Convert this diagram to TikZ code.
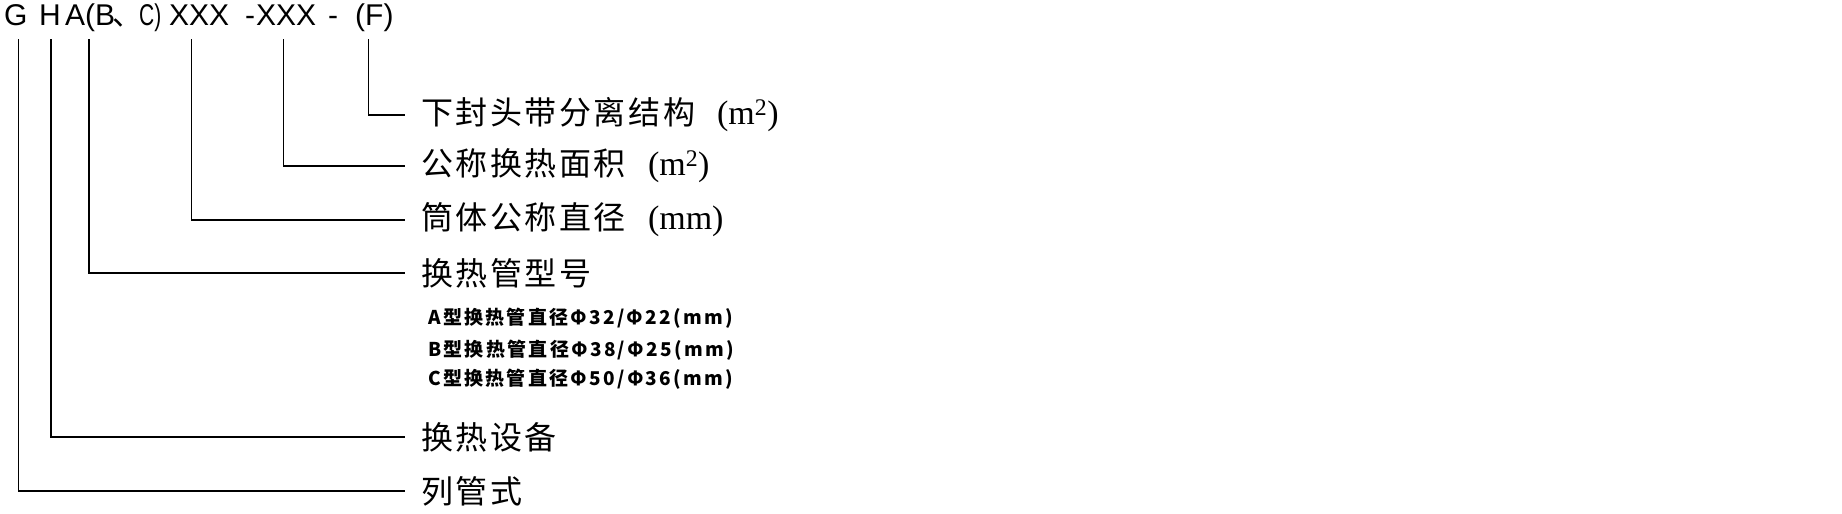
\documentclass[tikz,border=0pt]{standalone}
\usepackage{fontspec}
\setmainfont{Liberation Sans}
\newfontfamily\narrowfont{Liberation Sans}[FakeStretch=0.7]
\newfontfamily\cjkfont{Noto Sans CJK SC}[LetterSpace=8]
\newfontfamily\subfont{Noto Sans CJK SC}[LetterSpace=12]
\newfontfamily\unitfont{Liberation Serif}
\usetikzlibrary{positioning}
\newcommand{\munit}[1]{\hspace{22pt}{\unitfont\fontsize{34}{34}\selectfont #1}}

\begin{document}
\begin{tikzpicture}[
    x=1pt, y=-1pt,
    code/.style={inner sep=0pt, anchor=base west, font=\fontsize{30}{30}\selectfont},
    lab/.style={inner sep=0pt, anchor=west, font=\cjkfont\fontsize{32}{32}\selectfont},
    sub/.style={inner sep=0pt, anchor=west, font=\subfont\bfseries\fontsize{19}{19}\selectfont},
    lead/.style={line width=1.2pt, shorten >=16pt}
]
\useasboundingbox (0,0) rectangle (1842,514);

% model code
\node[code] (codeG) at (4,25) {G};
\node[code] (codeH) at (39,25) {H};
\node[code] (codeA) at (65,25) {A};
\node[code] (codeBC) at (85,25) {(B};
\node[code, font=\cjkfont\fontsize{30}{30}\selectfont] (comma) at (112,25) {、};
\node[code, font=\narrowfont\fontsize{30}{30}\selectfont] (codeC) at (139,25) {C)};
\node[code] (codeX1) at (169,25) {XXX};
\node[code] (dashA) at (245,25) {-};
\node[code] (codeX2) at (256,25) {XXX};
\node[code] (dashB) at (328,25) {-};
\node[code] (codeF) at (355,25) {(F)};

% meanings
\node[lab] (labF) at (421,115) {下封头带分离结构\munit{(m\textsuperscript{2})}};
\node[lab] (labArea) at (421,166) {公称换热面积\munit{(m\textsuperscript{2})}};
\node[lab] (labDia) at (421,220) {筒体公称直径\munit{(mm)}};
\node[lab] (labTube) at (421,273) {换热管型号};
\node[sub] (subA) at (428,318) {A型换热管直径Φ32/Φ22(mm)};
\node[sub] (subB) at (428,350) {B型换热管直径Φ38/Φ25(mm)};
\node[sub] (subC) at (428,379) {C型换热管直径Φ50/Φ36(mm)};
\node[lab] (labEquip) at (421,437) {换热设备};
\node[lab] (labType) at (421,491) {列管式};

\draw[lead] ([xshift=-6pt,yshift=-14pt]codeF.base) |- (labF.west);
\draw[lead] ([xshift=-3pt,yshift=-14pt]codeX2.base) |- (labArea.west);
\draw[lead] ([xshift=-8pt,yshift=-14pt]codeX1.base) |- (labDia.west);
\draw[lead] ([xshift=4pt,yshift=-14pt]codeBC.base west) |- (labTube.west);
\draw[lead] ([xshift=1pt,yshift=-14pt]codeH.base) |- (labEquip.west);
\draw[lead] ([xshift=3pt,yshift=-14pt]codeG.base) |- (labType.west);
\end{tikzpicture}
\end{document}
